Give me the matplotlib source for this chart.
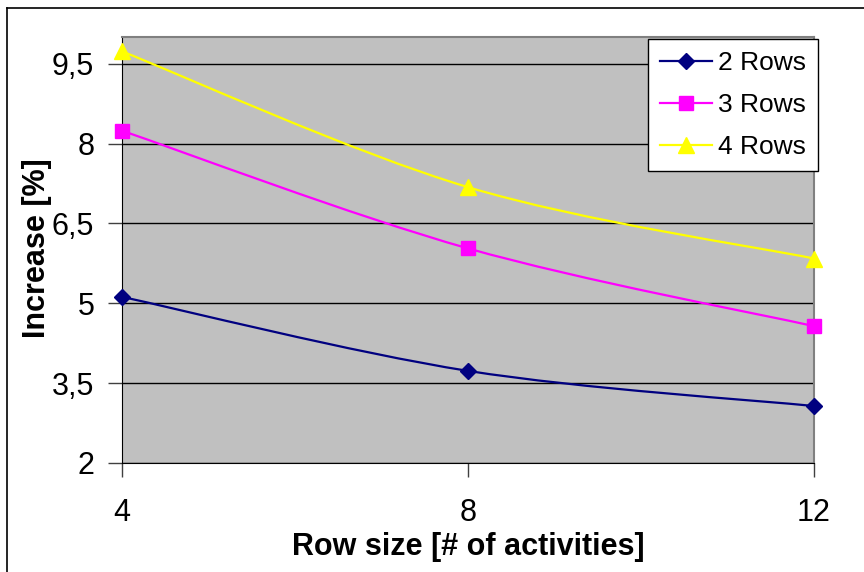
#increase of cost as a function of row size, one line per number of rows
import matplotlib.pyplot as plt
from matplotlib.path import Path
from matplotlib.patches import PathPatch
from matplotlib.lines import Line2D
from matplotlib.ticker import FuncFormatter

plt.rcParams['font.family'] = ['Liberation Sans', 'DejaVu Sans']

row_size = [4, 8, 12]
rows2 = [5.12, 3.73, 3.07]
rows3 = [8.24, 6.03, 4.57]
rows4 = [9.73, 7.18, 5.84]
labels = ['2 Rows', '3 Rows', '4 Rows']
yticks = [2, 3.5, 5, 6.5, 8, 9.5]

colors = ['#000080', '#FF00FF', '#FFFF00']
markers = ['D', 's', '^']
msizes = [8, 10, 11]

def smooth_path(x, y):
    #excel style smoothed line: bezier segments through every point
    pts = list(zip(x, y))
    verts = [pts[0]]
    codes = [Path.MOVETO]
    n = len(pts)
    for i in range(n - 1):
        p0 = pts[i - 1] if i > 0 else pts[i]
        p1 = pts[i]
        p2 = pts[i + 1]
        p3 = pts[i + 2] if i + 2 < n else pts[i + 1]
        c1 = (p1[0] + (p2[0] - p0[0]) / 6., p1[1] + (p2[1] - p0[1]) / 6.)
        c2 = (p2[0] - (p3[0] - p1[0]) / 6., p2[1] - (p3[1] - p1[1]) / 6.)
        verts += [c1, c2, p2]
        codes += [Path.CURVE4] * 3
    return Path(verts, codes)

fig = plt.figure(figsize=(8.64, 5.72), dpi=100)
ax = fig.add_axes([122/864., 1 - 463/572., (814 - 122)/864., (463 - 37)/572.])
ax.set_facecolor('#C0C0C0')

handles = []
for ys, c, m, ms, lab in zip([rows2, rows3, rows4], colors, markers, msizes, labels):
    ax.add_patch(PathPatch(smooth_path(row_size, ys), facecolor='none', edgecolor=c, lw=1.6, zorder=3))
    ax.plot(row_size, ys, linestyle='none', marker=m, color=c, markersize=ms, zorder=4, clip_on=False)
    handles.append(Line2D([], [], color=c, lw=1.6, marker=m, markersize=ms, label=lab))

ax.set_xlim(4, 12)
ax.set_ylim(2, 10)
ax.set_xticks(row_size)
ax.set_yticks(yticks)
ax.yaxis.set_major_formatter(FuncFormatter(lambda v, p: ('%g' % v).replace('.', ',')))
ax.grid(axis='y', color='black', lw=1)
ax.set_axisbelow(True)
ax.tick_params(axis='both', labelsize=22, length=10, width=1, direction='out', color='#404040')
ax.tick_params(axis='x', pad=15)
ax.tick_params(axis='y', pad=10)

for s in ['top', 'right']:
    ax.spines[s].set_color('#808080')
    ax.spines[s].set_linewidth(1.5)
ax.spines['left'].set_color('black')
ax.spines['bottom'].set_color('black')

ax.set_xlabel('Row size [# of activities]', fontsize=22, fontweight='bold', labelpad=3)
ax.set_ylabel('Increase [%]', fontsize=22, fontweight='bold')
ax.yaxis.set_label_coords(-0.101, 0.505)

leg = ax.legend(handles=handles, loc='upper right', bbox_to_anchor=(1 + 4/692., 1 - 2/426.), fontsize=19,
                frameon=True, fancybox=False, framealpha=1, edgecolor='black',
                handlelength=1.95, borderpad=0.45, labelspacing=0.68, handletextpad=0.25, borderaxespad=0)
leg.get_frame().set_linewidth(1)

#chart border
fig.add_artist(Line2D([7/864., 7/864.], [0, 1 - 8/572.], color='black', lw=1.2))
fig.add_artist(Line2D([7/864., 1], [1 - 8/572., 1 - 8/572.], color='black', lw=1.2))

fig.savefig('out.png', dpi=100)
